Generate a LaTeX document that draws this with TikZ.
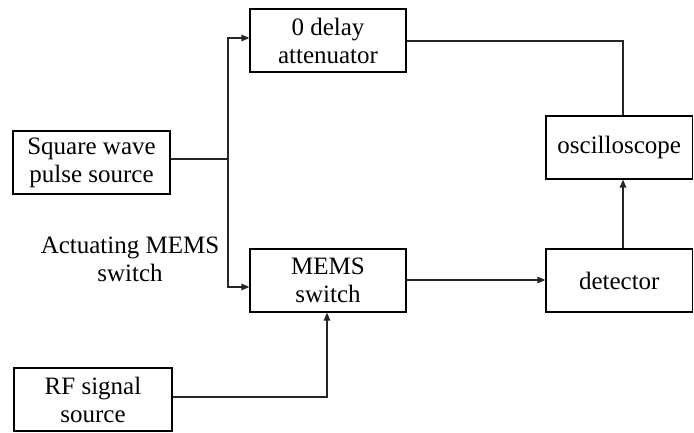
\documentclass[tikz,border=0pt]{standalone}
\usepackage{fontspec}
\setmainfont{Liberation Serif}
\usetikzlibrary{arrows.meta,calc}
\begin{document}
\begin{tikzpicture}[x=1pt,y=-1pt,
  block/.style={draw=black,line width=1.2pt,rectangle,inner sep=0pt,align=center,
    font=\fontsize{25}{28}\selectfont},
  wire/.style={draw=black!85,line width=1.2pt},
  arr/.style={wire,-{Triangle[length=8pt,width=6.5pt]}},
  lbl/.style={align=center,font=\fontsize{25}{28}\selectfont}]
\useasboundingbox (0,0) rectangle (694,433);

% blocks
\node[block,minimum width=157pt,minimum height=63pt] (sq)   at (91.5,162.5) {Square wave\\pulse source};
\node[block,minimum width=156pt,minimum height=63pt] (att)  at (328,40.5)   {0 delay\\attenuator};
\node[block,minimum width=156pt,minimum height=63pt] (mems) at (328,280.5)  {MEMS\\switch};
\node[block,minimum width=158pt,minimum height=63pt] (rf)   at (93,399.5)   {RF signal\\source};
\node[block,minimum width=146.5pt,minimum height=63pt] (osc) at (619.25,147.5) {oscilloscope};
\node[block,minimum width=146.5pt,minimum height=63pt] (det) at (619.25,280.5) {detector};

\node[lbl] (act) at (130,259) {Actuating MEMS\\switch};

% junction points of the wiring
\coordinate (j)   at (228,159);
\coordinate (ja)  at (228,38);
\coordinate (jm)  at (228,287);
\coordinate (tap) at (623,41);
\coordinate (rfc) at (327,397);

% pulse source splits to the attenuator and the switch
\draw[wire] (sq.east |- j) -- (j);
\draw[arr] (j) -- (ja) -- (ja -| att.west);
\draw[arr] (j) -- (jm) -- (jm -| mems.west);

% attenuator to oscilloscope
\draw[wire] (att.east |- tap) -- (tap) -- (tap |- osc.north);

% switch to detector to oscilloscope
\draw[arr] (mems.east |- 0,280) -- (det.west |- 0,280);
\draw[arr] (det.north -| tap) -- (osc.south -| tap);

% RF source into the switch
\draw[arr] (rf.east |- rfc) -- (rfc) -- (rfc |- mems.south);
\end{tikzpicture}
\end{document}
